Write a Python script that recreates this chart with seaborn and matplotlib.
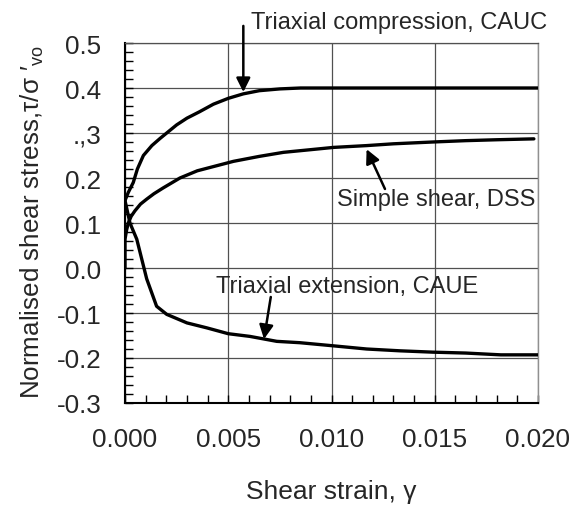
import numpy as np
import pandas as pd
import matplotlib
matplotlib.use('Agg')
import matplotlib.pyplot as plt
import seaborn as sns

# ---- data ----
dss_strain = [0, 0, 0.00008, 0.00016, 0.0003, 0.00048, 0.00075, 0.00105, 0.0014, 0.00185,
              0.00266, 0.0035, 0.0045, 0.00525, 0.0065, 0.00767, 0.009, 0.0101, 0.0117,
              0.013, 0.0149, 0.0165, 0.018, 0.0198]
dss_stress = [0, 0.064, 0.085, 0.100, 0.115, 0.127, 0.142, 0.153, 0.165, 0.178,
              0.200, 0.216, 0.228, 0.237, 0.248, 0.257, 0.263, 0.268, 0.272,
              0.276, 0.280, 0.283, 0.285, 0.287]

cauc_strain = [0, 0.00016, 0.0004, 0.0006, 0.00089, 0.0013, 0.0017, 0.00202, 0.0025, 0.0030,
               0.0036, 0.00428, 0.005, 0.00573, 0.0065, 0.0075, 0.0085, 0.01, 0.02]
cauc_stress = [0.15, 0.168, 0.19, 0.22, 0.25, 0.272, 0.288, 0.30, 0.318, 0.333,
               0.347, 0.364, 0.377, 0.387, 0.394, 0.398, 0.4, 0.4, 0.4]

caue_strain = [0, 0.00024, 0.00057, 0.00081, 0.00105, 0.00153, 0.00202, 0.003, 0.00396, 0.005,
               0.00605, 0.00735, 0.00847, 0.0101, 0.0117, 0.0133, 0.0149, 0.0165, 0.0182, 0.02]
caue_stress = [0.15, 0.10, 0.064, 0.02, -0.024, -0.085, -0.103, -0.122, -0.133, -0.146,
               -0.152, -0.163, -0.166, -0.173, -0.180, -0.184, -0.187, -0.189, -0.193, -0.193]

x_ticks = [0.0, 0.005, 0.010, 0.015, 0.020]
x_tick_labels = ['0.000', '0.005', '0.010', '0.015', '0.020']
y_ticks = [0.5, 0.4, 0.3, 0.2, 0.1, 0.0, -0.1, -0.2, -0.3]
y_tick_labels = ['0.5', '0.4', '.,3', '0.2', '0.1', '0.0', '-0.1', '-0.2', '-0.3']

labels = ['Triaxial compression, CAUC', 'Simple shear, DSS', 'Triaxial extension, CAUE']

df = pd.concat([
    pd.DataFrame({'strain': cauc_strain, 'stress': cauc_stress, 'test': labels[0]}),
    pd.DataFrame({'strain': dss_strain, 'stress': dss_stress, 'test': labels[1]}),
    pd.DataFrame({'strain': caue_strain, 'stress': caue_stress, 'test': labels[2]}),
], ignore_index=True)

sns.set_theme(style='white')
plt.rcParams['font.family'] = ['Liberation Sans', 'DejaVu Sans']
plt.rcParams['mathtext.fontset'] = 'custom'
plt.rcParams['mathtext.rm'] = 'Liberation Sans'
plt.rcParams['mathtext.it'] = 'Liberation Sans:italic'

FS_TICK = 18.7
FS_XLAB = 19
FS_YLAB = 18.7
FS_ANN = 17

fig = plt.figure(figsize=(5.81, 5.10), dpi=100)
ax = fig.add_axes([125 / 581, 106 / 510, 413 / 581, 360 / 510])

sns.lineplot(data=df, x='strain', y='stress', hue='test',
             palette=['black'] * 3, sort=False, estimator=None,
             linewidth=2.4, legend=False, ax=ax, zorder=3)

ax.set_xlim(0, 0.02)
ax.set_ylim(-0.3, 0.5)
ax.set_xticks(x_ticks)
ax.set_xticklabels(x_tick_labels, fontsize=FS_TICK)
ax.set_yticks(y_ticks)
ax.set_yticklabels(y_tick_labels, fontsize=FS_TICK)
ax.set_xticks(np.arange(0, 0.0201, 0.001), minor=True)
ax.set_yticks(np.arange(-0.3, 0.501, 0.02), minor=True)
ax.tick_params(which='both', direction='in', color='black', width=1, length=6,
               bottom=True, left=True, top=False, right=False)
ax.tick_params(which='major', pad=17)

ax.grid(True, which='major', color='#505050', linewidth=0.9)
for s in ['left', 'bottom']:
    ax.spines[s].set_color('black')
    ax.spines[s].set_linewidth(1.5)
ax.spines['top'].set_color('#505050')
ax.spines['top'].set_linewidth(0.9)
ax.spines['right'].set_color('#909090')
ax.spines['right'].set_linewidth(1.0)

ax.set_xlabel('Shear strain, γ', fontsize=FS_XLAB)
ax.set_ylabel("Normalised shear stress,τ/σ ′$_{\\mathrm{vo}}$", fontsize=FS_YLAB)
ax.xaxis.set_label_coords(0.5, (404 - 480) / 360)
ax.yaxis.set_label_coords((46 - 125) / 413, (404 - 222) / 360)

arrow = dict(arrowstyle='-|>', color='black', lw=1.8, mutation_scale=21,
             shrinkA=0, shrinkB=0)
ax.annotate('', xy=(0.00573, 0.391), xytext=(0.00573, 0.538), arrowprops=arrow,
            annotation_clip=False, zorder=4)
ax.annotate('', xy=(0.0117, 0.264), xytext=(0.01259, 0.1756), arrowprops=arrow, zorder=4)
ax.annotate('', xy=(0.00673, -0.158), xytext=(0.00706, -0.0644), arrowprops=arrow, zorder=4)

ax.text(0.00609, 0.546, labels[0], fontsize=FS_ANN, ha='left', va='center', clip_on=False)
ax.text(0.01985, 0.153, labels[1], fontsize=FS_ANN, ha='right', va='center')
ax.text(0.01075, -0.0393, labels[2], fontsize=FS_ANN, ha='center', va='center')

fig.savefig('out.png', dpi=100)
